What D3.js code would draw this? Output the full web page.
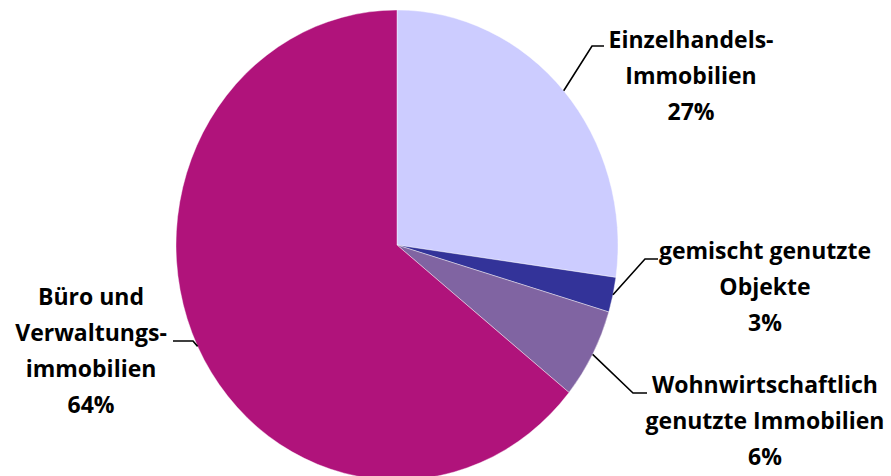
<!DOCTYPE html>
<html>
<head>
<meta charset="utf-8">
<script src="https://cdn.jsdelivr.net/npm/d3@7"></script>
<style>
  html, body { margin: 0; padding: 0; background: #fff; }
  svg { display: block; }
</style>
</head>
<body>
<div id="chart"></div>
<script>
// data
const categories = ["Einzelhandels-Immobilien", "gemischt genutzte Objekte", "Wohnwirtschaftlich genutzte Immobilien", "Büro und Verwaltungsimmobilien"];
const shares = [27.2, 2.4, 6.2, 64.2];
const percentLabels = ["27%", "3%", "6%", "64%"];
const labelLines = [
  ["Einzelhandels-", "Immobilien"],
  ["gemischt genutzte", "Objekte"],
  ["Wohnwirtschaftlich", "genutzte Immobilien"],
  ["Büro und", "Verwaltungs-", "immobilien"]
];
const colors = ["#ccccff", "#333399", "#8064a2", "#b0137b"];

// layout for labels (text centre / first baseline, leader elbow and end)
const labelLayout = [
  { x: 691, y: 48, elbow: [592, 46], end: [604, 46] },
  { x: 765, y: 259, elbow: [645, 259], end: [658, 259] },
  { x: 765, y: 393, elbow: [633, 393], end: [647, 393] },
  { x: 91, y: 305, elbow: [193, 341], end: [173, 341] }
];

const width = 891, height = 476;
const cx = 397, cy = 245, r = 221, ry = 235;
const lineH = 36;

const svg = d3.select("#chart").append("svg")
  .attr("width", width)
  .attr("height", height);

const pie = d3.pie().sort(null).value(d => d);
const arcs = pie(shares);
const arc = d3.arc().innerRadius(0).outerRadius(r);

svg.append("g")
  .attr("transform", `translate(${cx},${cy}) scale(1,${ry / r})`)
  .selectAll("path")
  .data(arcs)
  .enter()
  .append("path")
  .attr("d", arc)
  .attr("fill", (d, i) => colors[i])
  .attr("stroke", "#fff")
  .attr("stroke-width", 0.4);

// leader lines, starting on the pie edge at each slice's mid angle
const edgePoint = d => {
  const a = (d.startAngle + d.endAngle) / 2;
  return [cx + r * Math.sin(a), cy - ry * Math.cos(a)];
};

svg.append("g")
  .selectAll("polyline")
  .data(arcs)
  .enter()
  .append("polyline")
  .attr("points", (d, i) => [edgePoint(d), labelLayout[i].elbow, labelLayout[i].end].map(p => p.join(",")).join(" "))
  .attr("fill", "none")
  .attr("stroke", "#000")
  .attr("stroke-width", 1.6);

const labels = svg.append("g")
  .selectAll("text")
  .data(arcs)
  .enter()
  .append("text")
  .attr("text-anchor", "middle")
  .attr("x", (d, i) => labelLayout[i].x)
  .attr("y", (d, i) => labelLayout[i].y)
  .style("font-family", "'Open Sans', sans-serif")
  .style("font-weight", "700")
  .style("font-size", "23px")
  .style("fill", "#000");

labels.each(function(d, i) {
  const t = d3.select(this);
  labelLines[i].concat([percentLabels[i]]).forEach((line, j) => {
    t.append("tspan")
      .attr("x", labelLayout[i].x)
      .attr("y", labelLayout[i].y + j * lineH)
      .text(line);
  });
});
</script>
</body>
</html>
